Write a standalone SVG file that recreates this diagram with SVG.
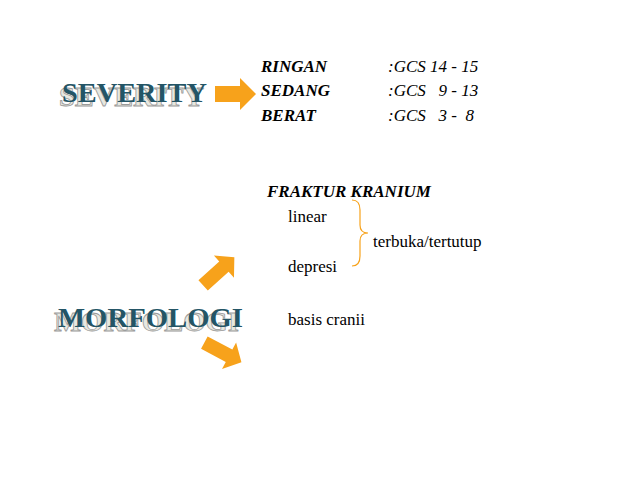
<svg xmlns="http://www.w3.org/2000/svg" width="638" height="479" viewBox="0 0 638 479">
<style>
.t{font-family:"Liberation Serif","Times New Roman",serif;font-size:17px;fill:#000}
.i{font-style:italic;font-weight:bold}
.g{font-style:italic;font-weight:normal}
.h{font-family:"Liberation Serif","Times New Roman",serif;font-weight:bold;font-size:28px}
.sh{fill:#e8e8e0;stroke:#9a9a9a;stroke-width:0.8}
.m{fill:#245566}
.ar{fill:#f7a21b}
</style>
<rect width="638" height="479" fill="#fff"/>
<g id="severity">
<text class="h sh" x="59" y="106" textLength="145" lengthAdjust="spacingAndGlyphs">SEVERITY</text>
<text class="h m" x="62" y="102" textLength="145" lengthAdjust="spacingAndGlyphs">SEVERITY</text>
</g>
<g id="morfologi">
<text class="h sh" x="54" y="331" textLength="185" lengthAdjust="spacingAndGlyphs">MORFOLOGI</text>
<text class="h m" x="58" y="327" textLength="185" lengthAdjust="spacingAndGlyphs">MORFOLOGI</text>
</g>
<g id="connectors">
<polygon class="ar" points="215,86 240,86 240,78 256,94 240,110 240,102 215,102"/>
<polygon class="ar" transform="translate(218,272) rotate(-42)" points="-20,-7 8,-7 8,-15 22,0 8,15 8,7 -20,7"/>
<polygon class="ar" transform="translate(222,352) rotate(28)" points="-20,-7 8,-7 8,-15 22,0 8,15 8,7 -20,7"/>
<path d="M352,200 Q360,200 360,210 L360,225 Q360,233 368,233 Q360,233 360,241 L360,256 Q360,266 352,266" fill="none" stroke="#f7a21b" stroke-width="1.2"/>
</g>
<g id="severity-list" class="t">
<text class="i" x="261" y="72">RINGAN</text><text class="g" x="388" y="72">:GCS 14 - 15</text>
<text class="i" x="261" y="96">SEDANG</text><text class="g" x="388" y="96">:GCS&#160;&#160; 9 - 13</text>
<text class="i" x="261" y="121">BERAT</text><text class="g" x="388" y="121">:GCS&#160;&#160; 3 -&#160; 8</text>
</g>
<g id="fraktur" class="t">
<text class="i" x="267" y="197">FRAKTUR KRANIUM</text>
<text x="288" y="222">linear</text>
<text x="373" y="247">terbuka/tertutup</text>
<text x="288" y="272">depresi</text>
<text x="288" y="325">basis cranii</text>
</g>
</svg>
